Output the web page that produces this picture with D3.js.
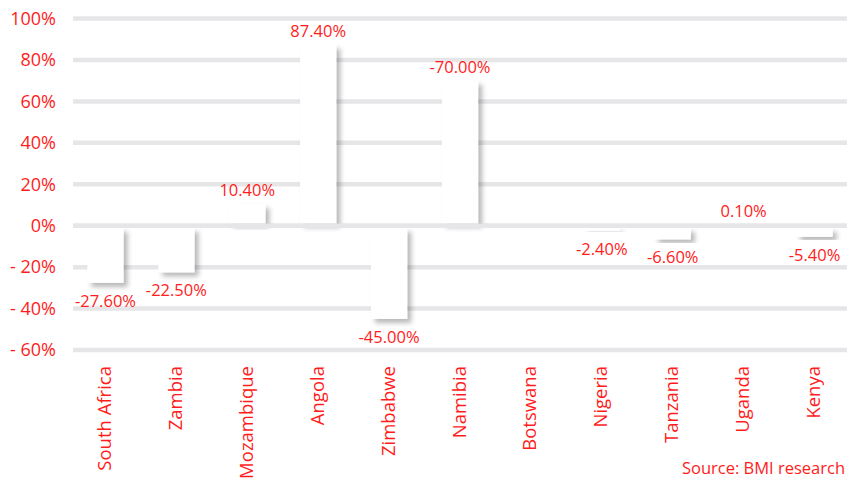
<!DOCTYPE html>
<html>
<head>
<meta charset="utf-8">
<script src="https://cdn.jsdelivr.net/npm/d3@7"></script>
<style>
  html, body { margin: 0; padding: 0; background: #ffffff; }
  svg { display: block; }
  text { font-family: "Open Sans", "Noto Sans", sans-serif; }
</style>
</head>
<body>
<svg id="chart" width="847" height="478"></svg>
<script>
// Countries along the x axis
const categories = ["South Africa", "Zambia", "Mozambique", "Angola", "Zimbabwe",
  "Namibia", "Botswana", "Nigeria", "Tanzania", "Uganda", "Kenya"];
// Change in percent (Botswana has no reading)
const values = [-27.6, -22.5, 10.4, 87.4, -45.0, 70.0, null, -2.4, -6.6, 0.1, -5.4];
// Value labels as printed above / below each bar
const valueLabels = ["-27.60%", "-22.50%", "10.40%", "87.40%", "-45.00%", "-70.00%",
  "", "-2.40%", "-6.60%", "0.10%", "-5.40%"];
// Y axis ticks and their labels
const yTicks = [100, 80, 60, 40, 20, 0, -20, -40, -60];
const yTickLabels = ["100%", "80%", "60%", "40%", "20%", "0%", "- 20%", "- 40%", "- 60%"];
const sourceNote = "Source: BMI research";

const RED = "#ff1c1c";
const GRID = "#e6e6e8";

const svg = d3.select("#chart");

const x = d3.scaleBand()
  .domain(categories)
  .range([70, 850])
  .paddingInner(0.49)
  .paddingOuter(0.245);

const y = d3.scaleLinear()
  .domain([-60, 100])
  .range([350, 18.5]);

// soft drop shadow under the white bars
const defs = svg.append("defs");
const f = defs.append("filter").attr("id", "shadow")
  .attr("x", "-30%").attr("y", "-30%").attr("width", "160%").attr("height", "160%");
f.append("feDropShadow")
  .attr("dx", 4).attr("dy", 4).attr("stdDeviation", 2.6)
  .attr("flood-color", "#000").attr("flood-opacity", 0.28);

// horizontal gridlines
const grid = svg.append("g");
grid.selectAll("line")
  .data(yTicks)
  .join("line")
  .attr("x1", 73).attr("x2", 847)
  .attr("y1", d => y(d)).attr("y2", d => y(d))
  .attr("stroke", GRID)
  .attr("stroke-width", 4.5);

// y tick labels
svg.append("g")
  .selectAll("text")
  .data(yTicks)
  .join("text")
  .attr("x", 56)
  .attr("y", d => y(d))
  .attr("dy", "0.35em")
  .attr("text-anchor", "end")
  .attr("font-size", 18)
  .attr("fill", RED)
  .text((d, i) => yTickLabels[i]);

// bars
const rows = categories.map((c, i) => ({ c, v: values[i], label: valueLabels[i] }));
const barData = rows.filter(d => d.v !== null);
const half = 2.25;
svg.append("g")
  .selectAll("rect")
  .data(barData)
  .join("rect")
  .attr("x", d => x(d.c))
  .attr("width", x.bandwidth())
  .attr("y", d => d.v >= 0 ? y(d.v) : y(0) + half)
  .attr("height", d => Math.max(0, Math.abs(y(d.v) - y(0)) - half))
  .attr("fill", "#ffffff")
  .attr("filter", "url(#shadow)");

// zero line stays visible between positive and negative bars
svg.append("line")
  .attr("x1", 73).attr("x2", 847)
  .attr("y1", y(0)).attr("y2", y(0))
  .attr("stroke", GRID)
  .attr("stroke-width", 4.5);

// value labels
svg.append("g")
  .selectAll("text")
  .data(barData)
  .join("text")
  .attr("x", d => x(d.c) + x.bandwidth() / 2)
  .attr("y", d => d.v >= 0 ? y(d.v) - 8 : y(d.v) + 24)
  .attr("text-anchor", "middle")
  .attr("font-size", 16.5)
  .attr("fill", RED)
  .text(d => d.label);

// category labels, rotated
svg.append("g")
  .selectAll("text")
  .data(categories)
  .join("text")
  .attr("transform", d => `translate(${x(d) + x.bandwidth() / 2 + 5.5},366) rotate(-90)`)
  .attr("text-anchor", "end")
  .attr("font-size", 18.5)
  .attr("fill", RED)
  .text(d => d);

// source note
svg.append("text")
  .attr("x", 845)
  .attr("y", 474)
  .attr("text-anchor", "end")
  .attr("font-size", 16.5)
  .attr("fill", RED)
  .text(sourceNote);
</script>
</body>
</html>
